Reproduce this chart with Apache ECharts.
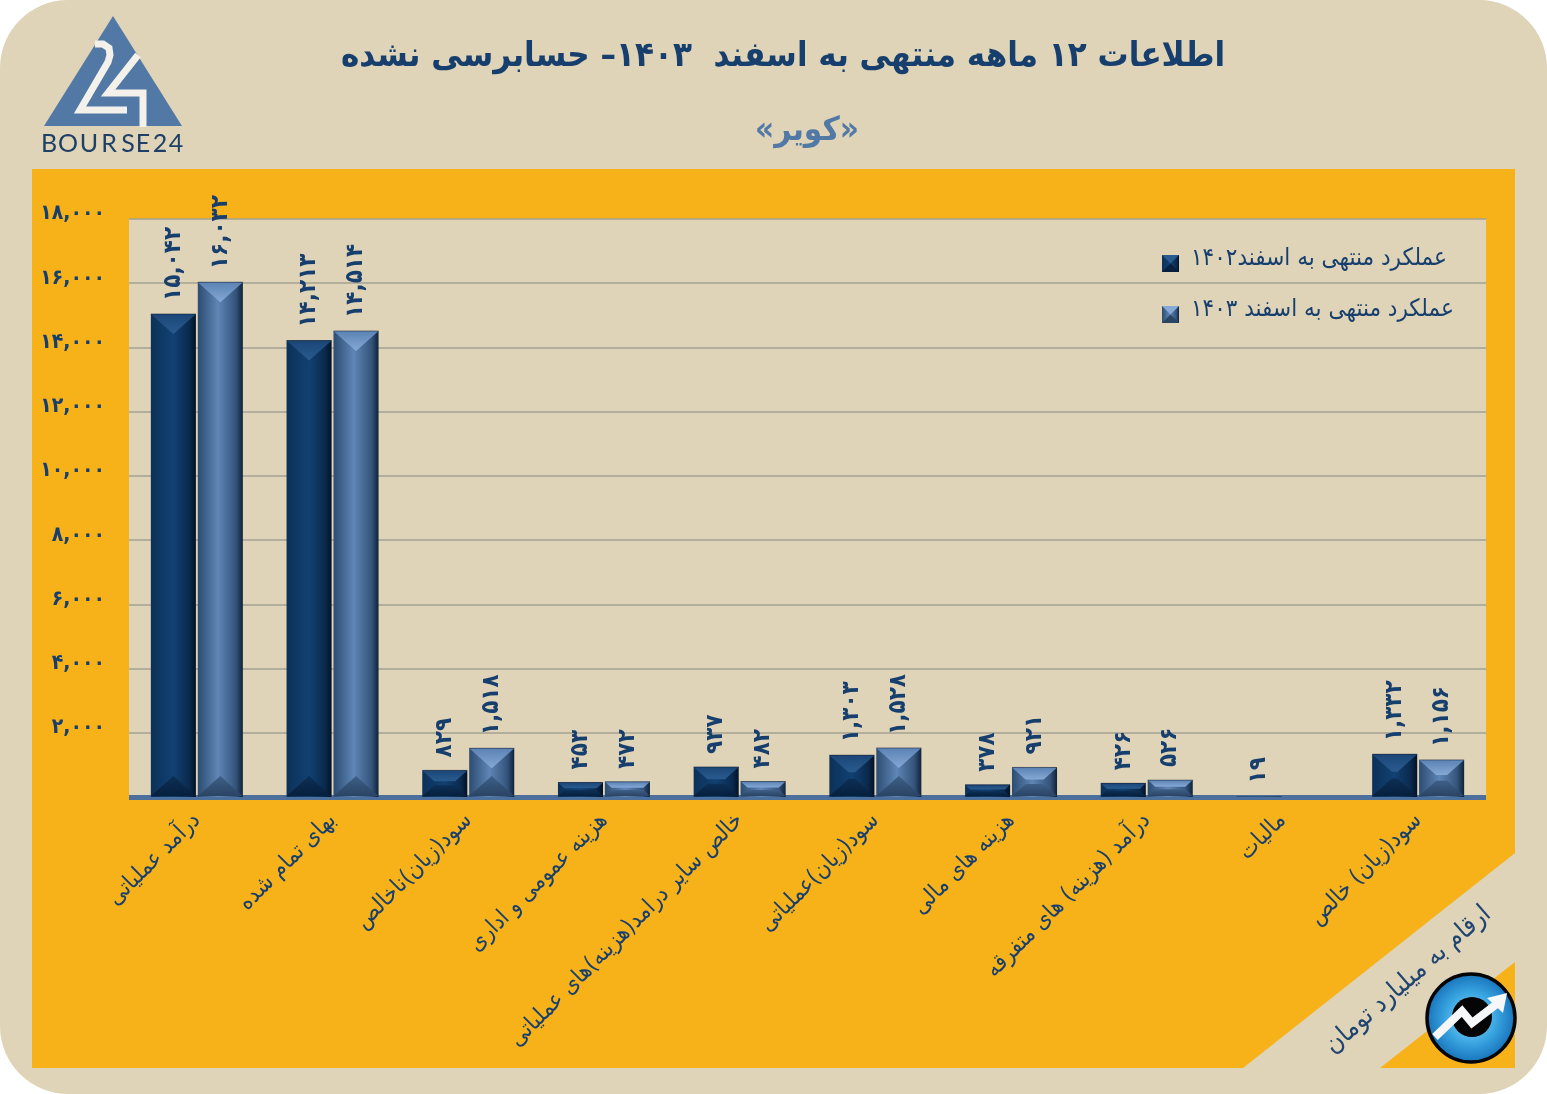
<!DOCTYPE html>
<html dir="rtl" lang="fa">
<head>
<meta charset="utf-8">
<title>کویر</title>
<script src="https://cdn.jsdelivr.net/npm/echarts@6/dist/echarts.min.js"></script>
<style>
html,body{margin:0;padding:0;background:#fff}
#c{position:absolute;left:0;top:0;width:1547px;height:1094px}
</style>
</head>
<body>
<div id="c"></div>
<script>
const titleText = 'اطلاعات ۱۲ ماهه منتهی به اسفند  ۱۴۰۳– حسابرسی نشده';
const subtitleText = '«کویر»';
const unitText = 'ارقام به میلیارد تومان';
const categories = ['درآمد عملیاتی','بهای تمام شده','سود(زیان)ناخالص','هزینه عمومی و اداری','خالص سایر درامد(هزینه)های عملیاتی','سود(زیان)عملیاتی','هزینه های مالی','درآمد (هزینه) های متفرقه','مالیات','سود(زیان) خالص'];
const seriesName1402 = 'عملکرد منتهی به اسفند۱۴۰۲';
const seriesName1403 = 'عملکرد منتهی به اسفند ۱۴۰۳';
const values1402 = [15042,14213,829,453,937,1303,378,426,19,1332];
const values1403 = [16032,14514,1518,472,482,1528,921,526,null,1156];
const yTicks = [2000,4000,6000,8000,10000,12000,14000,16000,18000];
const yTickLabels = ['۲,۰۰۰','۴,۰۰۰','۶,۰۰۰','۸,۰۰۰','۱۰,۰۰۰','۱۲,۰۰۰','۱۴,۰۰۰','۱۶,۰۰۰','۱۸,۰۰۰'];

const FA = '"DejaVu Sans Condensed","DejaVu Sans",sans-serif';
const NAVY = '#173f6d';
const BEIGE = '#dfd3b8';
const ORANGE = '#f8b219';
const LEGEND_ICON = 'path://M0,0L17,0L17,0Z M0,10L17,10L17,27L0,27Z';
const fa = v => Math.abs(v).toLocaleString('en-US').replace(/\d/g, d => '۰۱۲۳۴۵۶۷۸۹'[d]);
const hGrad = stops => ({type:'linear',x:0,y:0,x2:1,y2:0,colorStops:stops.map(c=>({offset:c[0],color:c[1]}))});
const vGrad = (a,b) => ({type:'linear',x:0,y:0,x2:0,y2:1,colorStops:[{offset:0,color:a},{offset:1,color:b}]});

const palette = [
  {side:[[0,'#0c3158'],[0.5,'#114172'],[0.85,'#0a2a4e'],[1,'#031226']], top:['#1b4677','#2a5b8e'], bottom:['#0d2f55','#06203e'], mid:'#16487c'},
  {side:[[0,'#2c4c72'],[0.45,'#5f86b5'],[0.85,'#33537a'],[1,'#0f2238']], top:['#5a82b3','#86a9d6'], bottom:['#3e5f87','#2a4464'], mid:'#5c83b3'}
];

function bevel(which){
  return function(params, api){
    const v = api.value(1);
    if (v == null || isNaN(v)) return;
    const band = api.size([1,0])[0];
    const w = band * 0.332;
    const gap = band * 0.014;
    const top = api.coord([api.value(0), v]);
    const base = api.coord([api.value(0), 0]);
    const x0 = which === 0 ? top[0] - gap/2 - w : top[0] + gap/2;
    const x1 = x0 + w, y0 = top[1], y1 = base[1] - 1, h = y1 - y0;
    if (h < 2) return;
    const d = Math.min(20, h * 0.42), ins = Math.min(w/2, d * 1.125);
    const p = palette[which];
    const poly = (pts, fill) => ({type:'polygon', shape:{points:pts}, style:{fill}, silent:true});
    return {type:'group', children:[
      poly([[x0,y0],[x1,y0],[x1-ins,y0+d],[x0+ins,y0+d]], vGrad(p.top[0],p.top[1])),
      poly([[x0,y1],[x1,y1],[x1-ins,y1-d],[x0+ins,y1-d]], vGrad(p.bottom[0],p.bottom[1])),
      {type:'line', shape:{x1:x0,y1:y0,x2:x1,y2:y0}, style:{stroke:'rgba(0,10,30,0.45)',lineWidth:1}, silent:true}
    ]};
  };
}

function barSeries(name, data, which){
  return {
    name, type:'bar', data, barWidth:'33.2%', barGap:'4.2%', z:3,
    itemStyle:{color:hGrad(palette[which].side)},
    label:{show:true, position:'top', distance:13, rotate:90, align:'left', verticalAlign:'middle',
      fontFamily:FA, fontWeight:'bold', fontSize:24, color:NAVY,
      formatter:p => fa(p.value)}
  };
}
function bevelSeries(name, data, which){
  return {name:name+' bevel', type:'custom', data:data.map((v,i)=>[i,v]), encode:{x:0,y:1}, z:4, silent:true, renderItem:bevel(which)};
}

const logoLetters = [['B',49],['O',68],['U',89],['R',109],['S',128],['E',143],['2',160],['4',176]];

const bg = [
  {type:'rect', z:-20, silent:true, shape:{x:0,y:0,width:1547,height:1094,r:68}, style:{fill:BEIGE}},
  {type:'polygon', z:-19, silent:true, shape:{points:[[32,169],[1515,169],[1515,853],[1243,1068],[32,1068]]}, style:{fill:ORANGE}},
  {type:'polygon', z:-19, silent:true, shape:{points:[[1515,962],[1515,1068],[1380,1068]]}, style:{fill:ORANGE}},
  {type:'text', silent:true, style:{x:783,y:57,text:titleText,fill:NAVY,font:'bold 34.5px '+FA,align:'center',verticalAlign:'middle'}},
  {type:'text', silent:true, style:{x:807,y:131,text:subtitleText,fill:'#5279a6',font:'bold 33px '+FA,align:'center',verticalAlign:'middle'}},
  {type:'text', silent:true, x:1408, y:980, rotation:41*Math.PI/180, style:{x:0,y:0,text:unitText,fill:'#1f4470',font:'26px '+FA,align:'center',verticalAlign:'middle'}},
  // top-left logo
  {type:'polygon', silent:true, shape:{points:[[113,16],[44,126],[182,126]]}, style:{fill:'#5279a6'}},
  {type:'polyline', silent:true, shape:{points:[[95,44],[103,44],[109,48],[110,55],[108,62],[80,110],[127,110]]}, style:{stroke:'#f4f1ea',fill:null,lineWidth:7,lineJoin:'miter'}},
  {type:'polyline', silent:true, shape:{points:[[138,55],[108,93],[143,93],[143,127]]}, style:{stroke:'#f4f1ea',fill:null,lineWidth:7,lineJoin:'miter'}},
  ...logoLetters.map(l => ({type:'text', silent:true, style:{x:l[1],y:144,text:l[0],fill:'#1e3f66',font:'25px Lato,sans-serif',align:'center',verticalAlign:'middle'}})),
  // bottom-right badge
  {type:'circle', silent:true, shape:{cx:1471,cy:1018,r:44}, style:{fill:{type:'radial',x:0.5,y:0.5,r:0.5,colorStops:[{offset:0,color:'#9fd8f4'},{offset:0.55,color:'#3aa6e2'},{offset:1,color:'#1570b8'}]},stroke:'#050505',lineWidth:3.5}},
  {type:'circle', silent:true, shape:{cx:1472,cy:1017,r:20}, style:{fill:'#050505'}},
  {type:'polyline', silent:true, shape:{points:[[1435,1037],[1462,1011],[1472,1023],[1498,1003]]}, style:{stroke:'#f5f7f8',fill:null,lineWidth:8,lineJoin:'miter'}},
  {type:'polygon', silent:true, shape:{points:[[1507,993],[1487,998],[1503,1013]]}, style:{fill:'#f5f7f8'}},
  // legend swatch bevels
  ...[[1162,255,0],[1162,306,1]].flatMap(s => {
    const x=s[0], y=s[1], n=17, p=palette[s[2]];
    return [
      {type:'polygon', silent:true, z:10, shape:{points:[[x,y],[x+n,y],[x+n/2,y+n/2]]}, style:{fill:p.top[1]}},
      {type:'polygon', silent:true, z:10, shape:{points:[[x,y+n],[x+n,y+n],[x+n/2,y+n/2]]}, style:{fill:p.bottom[1]}}
    ];
  })
];

const chart = echarts.init(document.getElementById('c'), null, {renderer:'canvas'});
chart.setOption({
  animation:false,
  backgroundColor:'transparent',
  textStyle:{fontFamily:FA},
  graphic:{elements:bg},
  grid:{left:129, top:219, width:1357, height:578, show:true, backgroundColor:BEIGE, borderWidth:0},
  legend:{
    data:[{name:seriesName1402,icon:LEGEND_ICON},{name:seriesName1403,icon:LEGEND_ICON}], orient:'vertical', left:1162, top:245, padding:0, itemWidth:17, itemHeight:27, itemGap:24,
    selectedMode:false, align:'left',
    textStyle:{fontFamily:FA, fontSize:24, color:NAVY, padding:[0,0,0,7]}
  },
  xAxis:{
    type:'category', data:categories, boundaryGap:true,
    axisLine:{show:true, lineStyle:{color:'#4c709b', width:5, cap:'butt'}},
    axisTick:{show:false}, splitLine:{show:false},
    axisLabel:{interval:0, rotate:45, margin:20, fontFamily:FA, fontSize:23, color:NAVY}
  },
  yAxis:{
    type:'value', min:0, max:18000, interval:2000,
    axisLine:{show:false}, axisTick:{show:false},
    splitLine:{show:true, lineStyle:{color:'#a5a192', width:1.5}},
    axisLabel:{margin:24, fontFamily:FA, fontWeight:'bold', fontSize:21, color:NAVY, verticalAlign:'bottom', lineHeight:10,
      formatter:v => { const i = yTicks.indexOf(v); return i < 0 ? '' : yTickLabels[i]; }}
  },
  series:[
    barSeries(seriesName1402, values1402, 0),
    barSeries(seriesName1403, values1403, 1),
    bevelSeries(seriesName1402, values1402, 0),
    bevelSeries(seriesName1403, values1403, 1)
  ]
});
</script>
</body>
</html>
